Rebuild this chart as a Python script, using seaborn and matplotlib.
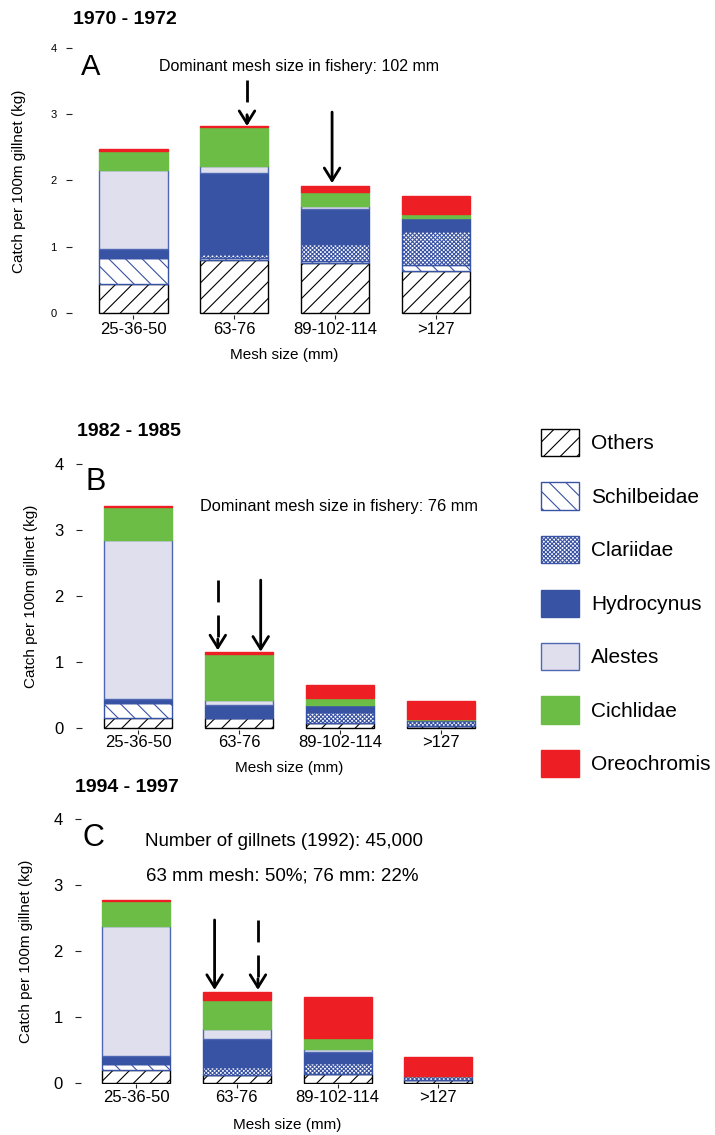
import numpy as np
import pandas as pd
import matplotlib
matplotlib.use("Agg")
import matplotlib.pyplot as plt
from matplotlib.patches import Patch
import seaborn as sns

# ---------------- data ----------------
mesh = ["25-36-50", "63-76", "89-102-114", ">127"]
species = ["Others", "Schilbeidae", "Clariidae", "Hydrocynus", "Alestes", "Cichlidae", "Oreochromis"]

# Panel A 1970-1972 (kg per 100 m gillnet)
a_others      = [0.44, 0.80, 0.76, 0.63]
a_schilbeidae = [0.40, 0.03, 0.02, 0.10]
a_clariidae   = [0.00, 0.07, 0.26, 0.51]
a_hydrocynus  = [0.13, 1.22, 0.53, 0.19]
a_alestes     = [1.19, 0.10, 0.04, 0.00]
a_cichlidae   = [0.29, 0.58, 0.22, 0.06]
a_oreochromis = [0.02, 0.02, 0.08, 0.28]

# Panel B 1982-1985
b_others      = [0.16, 0.16, 0.08, 0.04]
b_schilbeidae = [0.23, 0.00, 0.00, 0.00]
b_clariidae   = [0.00, 0.00, 0.17, 0.08]
b_hydrocynus  = [0.05, 0.19, 0.10, 0.01]
b_alestes     = [2.40, 0.08, 0.01, 0.00]
b_cichlidae   = [0.50, 0.69, 0.10, 0.02]
b_oreochromis = [0.02, 0.03, 0.19, 0.27]

# Panel C 1994-1997
c_others      = [0.20, 0.12, 0.13, 0.05]
c_schilbeidae = [0.08, 0.00, 0.00, 0.00]
c_clariidae   = [0.00, 0.12, 0.17, 0.05]
c_hydrocynus  = [0.13, 0.43, 0.17, 0.00]
c_alestes     = [1.97, 0.15, 0.04, 0.00]
c_cichlidae   = [0.38, 0.44, 0.17, 0.00]
c_oreochromis = [0.02, 0.12, 0.62, 0.29]

yticks = [0, 1, 2, 3, 4]

panel_data = [
    [a_others, a_schilbeidae, a_clariidae, a_hydrocynus, a_alestes, a_cichlidae, a_oreochromis],
    [b_others, b_schilbeidae, b_clariidae, b_hydrocynus, b_alestes, b_cichlidae, b_oreochromis],
    [c_others, c_schilbeidae, c_clariidae, c_hydrocynus, c_alestes, c_cichlidae, c_oreochromis],
]

# ---------------- styles ----------------
BLUE = "#3953a4"
styles = {
    "Others":      dict(color="white", edgecolor="black", hatch="//"),
    "Schilbeidae": dict(color="white", edgecolor=BLUE, hatch="\\\\"),
    "Clariidae":   dict(color="white", edgecolor=BLUE, hatch="xxxxxxxx"),
    "Hydrocynus":  dict(color=BLUE, edgecolor=BLUE, hatch=None),
    "Alestes":     dict(color="#dfdfee", edgecolor="#5068b4", hatch=None),
    "Cichlidae":   dict(color="#6bbd45", edgecolor="#6bbd45", hatch=None),
    "Oreochromis": dict(color="#ee1f24", edgecolor="#ee1f24", hatch=None),
}

sns.set_style("ticks")
plt.rcParams["font.family"] = ["Liberation Sans", "DejaVu Sans"]
plt.rcParams["hatch.linewidth"] = 0.8
plt.rcParams["text.color"] = "black"
plt.rcParams["axes.labelcolor"] = "black"
plt.rcParams["xtick.color"] = "black"
plt.rcParams["ytick.color"] = "black"

W, H = 715, 1135
fig = plt.figure(figsize=(W / 100, H / 100), dpi=100)

axes_cfg = [
    dict(rect=[0.1007, 0.7228, 0.5724, 0.2352], xlim=(-0.61, 3.45), ytick_fs=8, ytick_pad=6.5,
         xtick_pad=2.5, ylab=(-0.112, 0.5), xlab=(0.518, -0.125)),
    dict(rect=[0.1147, 0.3570, 0.5655, 0.2346], xlim=(-0.555, 3.45), ytick_fs=12, ytick_pad=8.6,
         xtick_pad=1.0, ylab=(-0.109, 0.5), xlab=(0.512, -0.117)),
    dict(rect=[0.1133, 0.0447, 0.5633, 0.2337], xlim=(-0.545, 3.45), ytick_fs=12, ytick_pad=8.6,
         xtick_pad=1.0, ylab=(-0.119, 0.5), xlab=(0.511, -0.127)),
]

axes = []
for cfg, pdata in zip(axes_cfg, panel_data):
    ax = fig.add_axes(cfg["rect"])
    bottom = np.zeros(len(mesh))
    for sp, vals in zip(species, pdata):
        st = styles[sp]
        vals = np.array(vals, dtype=float)
        kw = dict(edgecolor=st["edgecolor"], linewidth=1.0)
        if st["hatch"]:
            kw["hatch"] = st["hatch"]
        sns.barplot(x=mesh, y=vals, ax=ax, color=st["color"], saturation=1,
                    width=0.675, errorbar=None, bottom=bottom, **kw)
        bottom = bottom + vals
    ax.set_xlim(*cfg["xlim"])
    ax.set_ylim(-0.02, 4.0)
    ax.set_yticks(yticks)
    ax.set_yticklabels([str(t) for t in yticks])
    ax.tick_params(axis="y", length=4.5, width=0.8, color="#222222",
                   labelsize=cfg["ytick_fs"], pad=cfg["ytick_pad"], labelcolor="black")
    ax.tick_params(axis="x", length=3, width=0.8, color="#222222",
                   labelsize=12, pad=cfg["xtick_pad"], labelcolor="black")
    sns.despine(ax=ax, left=True, bottom=True)
    ax.set_ylabel("Catch per 100m gillnet (kg)", fontsize=11, color="black")
    ax.set_xlabel("Mesh size (mm)", fontsize=11, color="black")
    ax.yaxis.set_label_coords(*cfg["ylab"])
    ax.xaxis.set_label_coords(*cfg["xlab"])
    ax.patch.set_visible(False)
    axes.append(ax)

axA, axB, axC = axes


def fx(px):
    return px / W


def fy(py):
    return 1 - py / H


# titles
fig.text(fx(73), fy(20), "1970 - 1972", fontsize=14, weight="bold", va="center", ha="left")
fig.text(fx(77), fy(432), "1982 - 1985", fontsize=14, weight="bold", va="center", ha="left")
fig.text(fx(75), fy(788), "1994 - 1997", fontsize=14, weight="bold", va="center", ha="left")

# panel letters
fig.text(fx(81), fy(67), "A", fontsize=21, va="center", ha="left")
fig.text(fx(86), fy(482), "B", fontsize=22, va="center", ha="left")
fig.text(fx(82), fy(838), "C", fontsize=22, va="center", ha="left")

# annotations
fig.text(fx(299), fy(66), "Dominant mesh size in fishery: 102 mm", fontsize=11.5, va="center", ha="center")
fig.text(fx(339), fy(507), "Dominant mesh size in fishery: 76 mm", fontsize=11.8, va="center", ha="center")
fig.text(fx(145), fy(841), "Number of gillnets (1992): 45,000", fontsize=13.5, va="center", ha="left")
fig.text(fx(146), fy(876), "63 mm mesh: 50%; 76 mm: 22%", fontsize=13.5, va="center", ha="left")

# arrows
HEAD = "->, head_length=0.45, head_width=0.28"


def solid_arrow(ax, x, y0, y1):
    ax.annotate("", xy=(x, y1), xytext=(x, y0),
                arrowprops=dict(arrowstyle=HEAD, lw=2, color="black",
                                shrinkA=0, shrinkB=0, mutation_scale=20))


def dashed_arrow(ax, x, y0, y1):
    ax.plot([x, x], [y0, y1 + 0.05], color="black", lw=2, dashes=(7.9, 4.7),
            solid_capstyle="butt", dash_capstyle="butt")
    ax.annotate("", xy=(x, y1), xytext=(x, y1 + 0.17),
                arrowprops=dict(arrowstyle=HEAD, lw=2, color="black",
                                shrinkA=0, shrinkB=0, mutation_scale=20))


dashed_arrow(axA, 1.126, 3.51, 2.82)
solid_arrow(axA, 1.97, 3.03, 1.96)
dashed_arrow(axB, 0.79, 2.24, 1.18)
solid_arrow(axB, 1.215, 2.24, 1.16)
solid_arrow(axC, 0.78, 2.47, 1.41)
dashed_arrow(axC, 1.21, 2.47, 1.41)

# legend
handles = []
for sp in species:
    st = styles[sp]
    handles.append(Patch(facecolor=st["color"], edgecolor=st["edgecolor"],
                         hatch=st["hatch"], linewidth=1.0, label=sp))
fig.legend(handles=handles, loc="upper left", bbox_to_anchor=(fx(541), fy(429)),
           frameon=False, fontsize=15, handlelength=1.82, handleheight=1.62,
           labelspacing=1.27, handletextpad=0.58, borderpad=0, borderaxespad=0)

fig.savefig("out.png", dpi=100)
